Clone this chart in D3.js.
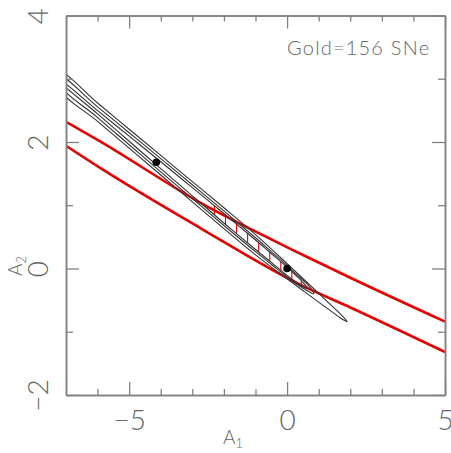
<!DOCTYPE html>
<html>
<head>
<meta charset="utf-8">
<script src="https://cdn.jsdelivr.net/npm/d3@7"></script>
<style>
body { margin: 0; background: #fff; }
text { font-family: "Lato", "Liberation Sans", sans-serif; font-weight: 300; fill: #666; }
</style>
</head>
<body>
<svg id="chart" width="451" height="453"></svg>
<script>
// contours: [A1, A2 upper edge, A2 lower edge], last point is the tip
const outerContour = [
  [-7.2, 3.114, 2.834], [-6, 2.616, 2.326], [-5, 2.202, 1.902], [-4, 1.788, 1.478],
  [-3, 1.374, 1.054], [-2, 0.960, 0.630], [-1, 0.536, 0.216], [0, 0.077, -0.163],
  [0.5, -0.158, -0.348], [1, -0.392, -0.532], [1.5, -0.630, -0.714], [1.75, -0.752, -0.802],
  [1.9, -0.839, -0.839]
];
const middleContour = [
  [-7.2, 3.049, 2.899], [-6, 2.556, 2.386], [-5, 2.147, 1.957], [-4, 1.738, 1.528],
  [-3, 1.324, 1.104], [-2, 0.910, 0.680], [-1, 0.486, 0.266], [-0.5, 0.267, 0.067],
  [0, 0.047, -0.133], [0.3, -0.094, -0.244], [0.6, -0.229, -0.339], [0.85, -0.400, -0.400]
];
const innerContour = [
  [-7.2, 2.986, 2.962], [-6, 2.496, 2.446], [-5, 2.092, 2.012], [-4, 1.688, 1.578],
  [-3, 1.279, 1.149], [-2, 0.870, 0.720], [-1, 0.451, 0.301], [-0.5, 0.237, 0.097],
  [0, 0.022, -0.108], [0.3, -0.119, -0.219], [0.5, -0.218, -0.288], [0.65, -0.315, -0.315]
];
// red constraint band edges
const redUpper = [[-7, 2.32], [-5.92, 2.01], [-2.75, 1.04], [0.52, 0.21], [2.02, -0.15], [5, -0.84]];
const redLower = [[-7, 1.94], [-5.92, 1.59], [-2.75, 0.64], [0.43, -0.26], [2.02, -0.62], [5, -1.32]];
// hatch positions inside the inner contour
const hatchX = [-2.3, -1.95, -1.6, -1.25, -0.9, -0.55, -0.2, 0.15, 0.45];
// best fit points
const bestFits = [[-4.14, 1.68], [0, 0]];

const xMajor = [-5, 0, 5];
const xMinor = [-6, -4, -3, -2, -1, 1, 2, 3, 4];
const yMajor = [-2, 0, 2, 4];
const yMinor = [-1, 1, 3];

const svg = d3.select("#chart");
const x = d3.scaleLinear().domain([-7, 5]).range([66, 445]);
const y = d3.scaleLinear().domain([-2, 4]).range([395, 15.5]);

svg.append("clipPath").attr("id", "plot")
  .append("rect")
  .attr("x", x(-7)).attr("y", y(4))
  .attr("width", x(5) - x(-7)).attr("height", y(-2) - y(4));

const g = svg.append("g").attr("clip-path", "url(#plot)");

// red band
const redLine = d3.line().x(d => x(d[0])).y(d => y(d[1])).curve(d3.curveMonotoneX);
[redUpper, redLower].forEach(r => {
  g.append("path").attr("d", redLine(r))
    .attr("fill", "none").attr("stroke", "#e60000").attr("stroke-width", 2.6);
});

// hatching across the inner contour
const innerUp = d3.scaleLinear().domain(innerContour.map(d => d[0])).range(innerContour.map(d => d[1]));
const innerLo = d3.scaleLinear().domain(innerContour.map(d => d[0])).range(innerContour.map(d => d[2]));

hatchX.forEach(h => {
  g.append("line")
    .attr("x1", x(h)).attr("x2", x(h))
    .attr("y1", y(innerUp(h))).attr("y2", y(innerLo(h)))
    .attr("stroke", "#e60000").attr("stroke-width", 1.1);
});

// contours
const contourLine = d3.line().x(d => x(d[0])).y(d => y(d[1])).curve(d3.curveCatmullRomClosed);
[outerContour, middleContour, innerContour].forEach(c => {
  const pts = c.map(d => [d[0], d[1]]).concat(c.slice(0, -1).reverse().map(d => [d[0], d[2]]));
  g.append("path").attr("d", contourLine(pts))
    .attr("fill", "none").attr("stroke", "#333").attr("stroke-width", 1.1);
});

g.selectAll(".best").data(bestFits).enter().append("circle")
  .attr("class", "best")
  .attr("cx", d => x(d[0])).attr("cy", d => y(d[1])).attr("r", 3.8)
  .attr("fill", "#000");

// axes, ticks pointing inward on all sides
function styleAxis(sel) {
  sel.select(".domain").attr("stroke", "#808080").attr("stroke-width", 1.5);
  sel.selectAll(".tick line").attr("stroke", "#808080").attr("stroke-width", 1.3);
}
const fmt = d3.format("d");

const axBottom = svg.append("g").attr("transform", `translate(0,${y(-2)})`)
  .call(d3.axisBottom(x).tickValues(xMajor).tickFormat(fmt).tickSizeInner(-13).tickSizeOuter(0).tickPadding(15));
axBottom.selectAll("text").attr("font-size", 28).attr("fill", "#666");
svg.append("g").attr("transform", `translate(0,${y(-2)})`)
  .call(d3.axisBottom(x).tickValues(xMinor).tickSizeInner(-6).tickSizeOuter(0).tickFormat(""))
  .call(styleAxis);

const axTop = svg.append("g").attr("transform", `translate(0,${y(4)})`)
  .call(d3.axisTop(x).tickValues(xMajor).tickSizeInner(-13).tickSizeOuter(0).tickFormat(""));
svg.append("g").attr("transform", `translate(0,${y(4)})`)
  .call(d3.axisTop(x).tickValues(xMinor).tickSizeInner(-6).tickSizeOuter(0).tickFormat(""))
  .call(styleAxis);

const axLeft = svg.append("g").attr("transform", `translate(${x(-7)},0)`)
  .call(d3.axisLeft(y).tickValues(yMajor).tickFormat(fmt).tickSizeInner(-13).tickSizeOuter(0));
axLeft.selectAll("text")
  .attr("font-size", 28).attr("fill", "#666")
  .attr("transform", "rotate(-90)")
  .attr("x", 0).attr("y", -18).attr("dy", 0)
  .attr("text-anchor", "middle");
svg.append("g").attr("transform", `translate(${x(-7)},0)`)
  .call(d3.axisLeft(y).tickValues(yMinor).tickSizeInner(-7).tickSizeOuter(0).tickFormat(""))
  .call(styleAxis);

const axRight = svg.append("g").attr("transform", `translate(${x(5)},0)`)
  .call(d3.axisRight(y).tickValues(yMajor).tickSizeInner(-13).tickSizeOuter(0).tickFormat(""));
svg.append("g").attr("transform", `translate(${x(5)},0)`)
  .call(d3.axisRight(y).tickValues(yMinor).tickSizeInner(-7).tickSizeOuter(0).tickFormat(""))
  .call(styleAxis);

[axBottom, axTop, axLeft, axRight].forEach(a => a.call(styleAxis));

// axis titles
const xt = svg.append("text").attr("x", 223).attr("y", 444).attr("font-size", 19);
xt.append("tspan").text("A");
xt.append("tspan").attr("font-size", 13).attr("dy", 4).text("1");

const yt = svg.append("text").attr("transform", "translate(22,276) rotate(-90)").attr("font-size", 19);
yt.append("tspan").text("A");
yt.append("tspan").attr("font-size", 13).attr("dy", 4).text("2");

svg.append("text").attr("x", 287).attr("y", 55).attr("font-size", 20)
  .attr("letter-spacing", 1.2).attr("fill", "#555")
  .text("Gold=156 SNe");
</script>
</body>
</html>
